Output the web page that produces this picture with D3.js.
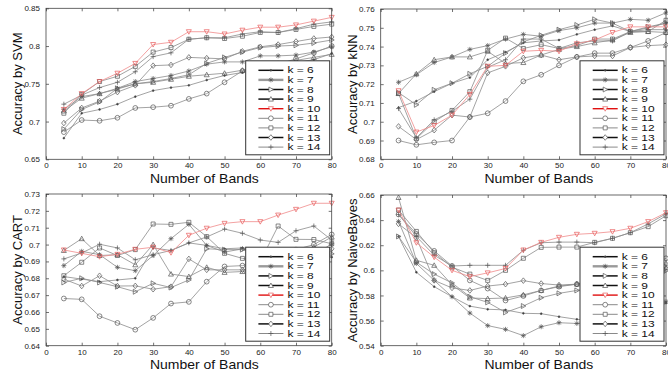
<!DOCTYPE html>
<html>
<head>
<meta charset="utf-8">
<script src="https://cdn.jsdelivr.net/npm/d3@7"></script>
<style>
  html, body { margin: 0; padding: 0; background: #fff; }
  svg { display: block; font-family: "Liberation Sans", Arial, Helvetica, sans-serif; }
</style>
</head>
<body>
<svg id="fig" width="668" height="372"></svg>
<script>
// Number of selected bands on the x axis
const bands = [5, 10, 15, 20, 25, 30, 35, 40, 45, 50, 55, 60, 65, 70, 75, 80];
const kLabels = ["k = 6", "k = 7", "k = 8", "k = 9", "k = 10", "k = 11", "k = 12", "k = 13", "k = 14"];
const markerTypes = [".", "*", ">", "^", "v", "o", "s", "d", "+"];
const xTicks = [0, 10, 20, 30, 40, 50, 60, 70, 80];

// Accuracy per classifier, one row per k (6..14)
const svmAccuracy = [
  [0.678,0.711,0.716,0.723,0.733,0.741,0.745,0.748,0.755,0.761,0.765,0.770,0.774,0.778,0.782,0.790],
  [0.716,0.733,0.737,0.744,0.753,0.757,0.761,0.767,0.776,0.779,0.779,0.787,0.787,0.788,0.792,0.799],
  [0.690,0.716,0.726,0.744,0.750,0.753,0.757,0.762,0.777,0.785,0.792,0.798,0.800,0.801,0.804,0.808],
  [0.714,0.731,0.737,0.743,0.750,0.752,0.756,0.760,0.762,0.764,0.768,0.773,0.777,0.781,0.785,0.789],
  [0.716,0.737,0.753,0.764,0.777,0.802,0.805,0.819,0.819,0.816,0.821,0.825,0.825,0.828,0.833,0.838],
  [0.686,0.702,0.701,0.705,0.718,0.719,0.721,0.730,0.737,0.752,0.767,0.772,0.776,0.783,0.791,0.800],
  [0.711,0.736,0.753,0.760,0.773,0.792,0.798,0.809,0.811,0.810,0.813,0.818,0.818,0.822,0.826,0.829],
  [0.698,0.718,0.727,0.739,0.748,0.774,0.775,0.785,0.784,0.783,0.793,0.799,0.802,0.806,0.810,0.812],
  [0.723,0.735,0.745,0.752,0.766,0.786,0.791,0.809,0.811,0.811,0.816,0.819,0.818,0.823,0.829,0.832]
];
const knnAccuracy = [
  [0.7075,0.711,0.716,0.7205,0.7235,0.733,0.737,0.742,0.743,0.7435,0.7465,0.749,0.751,0.748,0.750,0.7525],
  [0.721,0.725,0.7315,0.7345,0.7385,0.7405,0.744,0.7465,0.7455,0.7485,0.750,0.7525,0.7525,0.7545,0.754,0.758],
  [0.7155,0.709,0.717,0.7205,0.7255,0.7295,0.7365,0.7425,0.746,0.749,0.7515,0.7545,0.7525,0.748,0.7505,0.7525],
  [0.715,0.7255,0.733,0.7345,0.7345,0.7375,0.731,0.7315,0.7355,0.7385,0.740,0.742,0.7435,0.7475,0.748,0.7475],
  [0.7165,0.6945,0.698,0.7035,0.7145,0.7295,0.730,0.7375,0.738,0.7375,0.7415,0.7435,0.7475,0.7505,0.7505,0.7505],
  [0.690,0.6877,0.689,0.690,0.7025,0.7045,0.711,0.7215,0.725,0.730,0.7345,0.7365,0.7365,0.7395,0.743,0.7475],
  [0.715,0.691,0.700,0.706,0.716,0.738,0.7445,0.739,0.741,0.739,0.7405,0.744,0.744,0.748,0.748,0.754],
  [0.6975,0.6905,0.6955,0.7035,0.7025,0.726,0.7295,0.734,0.7355,0.733,0.7345,0.735,0.735,0.7395,0.7405,0.741],
  [0.707,0.6915,0.701,0.7055,0.712,0.729,0.733,0.744,0.744,0.739,0.742,0.743,0.743,0.748,0.749,0.749]
];
const cartAccuracy = [
  [0.681,0.6795,0.678,0.679,0.680,0.698,0.6965,0.701,0.6995,0.6975,0.698,0.697,0.696,0.695,0.694,0.6925],
  [0.6875,0.696,0.694,0.6865,0.6845,0.6935,0.7035,0.712,0.6995,0.6955,0.6975,0.696,0.695,0.694,0.6935,0.7005],
  [0.6775,0.680,0.6775,0.675,0.672,0.677,0.6745,0.679,0.6975,0.697,0.697,0.695,0.694,0.6935,0.693,0.6945],
  [0.6965,0.7035,0.6935,0.694,0.688,0.700,0.6825,0.681,0.6865,0.6835,0.684,0.686,0.690,0.695,0.6985,0.7045],
  [0.6968,0.6948,0.6928,0.6942,0.6972,0.6984,0.6952,0.7055,0.7097,0.7126,0.7136,0.7136,0.7175,0.7209,0.7245,0.7245],
  [0.668,0.6675,0.6575,0.6535,0.6495,0.6565,0.665,0.666,0.678,0.687,0.6875,0.690,0.692,0.697,0.700,0.706],
  [0.6815,0.6895,0.698,0.6935,0.697,0.7122,0.712,0.7132,0.7047,0.6948,0.6918,0.690,0.711,0.7031,0.703,0.7005],
  [0.6795,0.6754,0.6815,0.6754,0.6755,0.6735,0.675,0.6915,0.685,0.685,0.685,0.687,0.689,0.692,0.695,0.6975],
  [0.6915,0.695,0.7002,0.698,0.691,0.694,0.6965,0.701,0.7045,0.7092,0.7067,0.7027,0.7013,0.7082,0.711,0.7027]
];
const nbAccuracy = [
  [0.627,0.5985,0.587,0.579,0.5715,0.569,0.5685,0.5658,0.5655,0.5631,0.561,0.560,0.5595,0.560,0.565,0.574],
  [0.639,0.6055,0.592,0.579,0.566,0.556,0.553,0.548,0.5551,0.5583,0.5577,0.559,0.562,0.566,0.570,0.575],
  [0.627,0.6065,0.597,0.590,0.579,0.5745,0.5665,0.5716,0.5782,0.5817,0.584,0.586,0.589,0.593,0.597,0.5997],
  [0.658,0.608,0.604,0.5885,0.578,0.5775,0.578,0.5805,0.584,0.5875,0.589,0.591,0.594,0.597,0.600,0.6024],
  [0.648,0.622,0.6105,0.600,0.595,0.598,0.6015,0.6162,0.6223,0.6263,0.6287,0.6295,0.6308,0.6335,0.6388,0.6459],
  [0.6445,0.629,0.6155,0.6035,0.592,0.5855,0.576,0.5796,0.584,0.587,0.589,0.593,0.597,0.601,0.605,0.6096],
  [0.648,0.631,0.614,0.6025,0.597,0.592,0.600,0.6096,0.6183,0.6185,0.6185,0.6223,0.6255,0.630,0.6348,0.6435],
  [0.637,0.626,0.592,0.586,0.584,0.5875,0.589,0.5918,0.5895,0.5883,0.589,0.591,0.594,0.598,0.601,0.605],
  [0.6445,0.627,0.612,0.6035,0.604,0.604,0.604,0.616,0.622,0.6225,0.6225,0.622,0.6255,0.630,0.637,0.645]
];

const svmTicks = [0.65, 0.7, 0.75, 0.8, 0.85];
const knnTicks = [0.68, 0.69, 0.7, 0.71, 0.72, 0.73, 0.74, 0.75, 0.76];
const cartTicks = [0.64, 0.65, 0.66, 0.67, 0.68, 0.69, 0.7, 0.71, 0.72, 0.73];
const nbTicks = [0.54, 0.56, 0.58, 0.6, 0.62, 0.64, 0.66];

const panels = [
  { data: svmAccuracy,  ticks: svmTicks,  label: "Accuracy by SVM",        box: [46, 8.3, 331.7, 159.3],   yTitleX: 21.5 },
  { data: knnAccuracy,  ticks: knnTicks,  label: "Accuracy by kNN",        box: [380.7, 9, 666, 159.3],    yTitleX: 356.5 },
  { data: cartAccuracy, ticks: cartTicks, label: "Accuracy by CART",       box: [46, 194, 331.7, 345.7],   yTitleX: 22 },
  { data: nbAccuracy,   ticks: nbTicks,   label: "Accuracy by NaiveBayes", box: [380.7, 195, 666, 345.7],  yTitleX: 356.5 }
];

// legend line appearance per k
const legendLine = [
  { c: "#111", w: 1.5 }, { c: "#9a9a9a", w: 2.4 }, { c: "#111", w: 1.5 },
  { c: "#111", w: 1.5 }, { c: "#e01010", w: 1.4 }, { c: "#8a8a8a", w: 1 },
  { c: "#8a8a8a", w: 1 }, { c: "#111", w: 1.5 }, { c: "#8a8a8a", w: 1 }
];

const fmt = v => String(+v.toFixed(3));

function markerPath(t) {
  const s = 2.5;
  switch (t) {
    case "o": return d3.symbol(d3.symbolCircle, Math.PI * 2.4 * 2.4)();
    case "s": return "M-2,-2H2V2H-2Z";
    case "d": return "M0,-2.8L2.3,0L0,2.8L-2.3,0Z";
    case "^": return `M0,${-s}L${s},${s * 0.8}L${-s},${s * 0.8}Z`;
    case "v": return `M0,${s}L${s},${-s * 0.8}L${-s},${-s * 0.8}Z`;
    case ">": return `M${s},0L${-s * 0.8},${s}L${-s * 0.8},${-s}Z`;
    case "+": return `M${-s},0H${s}M0,${-s}V${s}`;
    case "*": return `M${-s},0H${s}M0,${-s}V${s}M-1.8,-1.8L1.8,1.8M-1.8,1.8L1.8,-1.8`;
    default:  return d3.symbol(d3.symbolCircle, Math.PI * 0.9 * 0.9)();
  }
}

const svg = d3.select("#fig");

panels.forEach(p => {
  const [x0, y0, x1, y1] = p.box;
  const x = d3.scaleLinear().domain([0, 80]).range([x0, x1]);
  const y = d3.scaleLinear().domain([p.ticks[0], p.ticks[p.ticks.length - 1]]).range([y1, y0]);
  const g = svg.append("g");

  // axes: bottom/left labelled, top/right ticks only, all inward
  const ax = (axis, tr) => g.append("g").attr("transform", tr).call(axis)
    .call(s => s.select(".domain").remove())
    .call(s => s.selectAll("line").attr("stroke", "#333").attr("stroke-width", 0.7))
    .call(s => s.selectAll("text").attr("font-size", 8).attr("fill", "#222").attr("font-family", null));
  ax(d3.axisBottom(x).tickValues(xTicks).tickSizeInner(-3).tickPadding(3.5).tickFormat(fmt), `translate(0,${y1})`);
  ax(d3.axisTop(x).tickValues(xTicks).tickSizeInner(-3).tickFormat(""), `translate(0,${y0})`);
  ax(d3.axisLeft(y).tickValues(p.ticks).tickSizeInner(-3).tickPadding(6).tickFormat(fmt), `translate(${x0},0)`);
  ax(d3.axisRight(y).tickValues(p.ticks).tickSizeInner(-3).tickFormat(""), `translate(${x1},0)`);

  // series lines and markers, the k = 10 series drawn last
  const line = d3.line().x((d, i) => x(bands[i])).y(d => y(d));
  const order = [0, 1, 2, 3, 5, 6, 7, 8, 4];
  order.forEach(k => {
    const red = k === 4;
    const vals = p.data[k];
    g.append("path").attr("d", line(vals)).attr("fill", "none")
      .attr("stroke", red ? "#f08a8a" : "#8c8c8c").attr("stroke-width", 0.8);
    g.selectAll(null).data(vals).join("path")
      .attr("transform", (d, i) => `translate(${x(bands[i])},${y(d)})`)
      .attr("d", markerPath(markerTypes[k]))
      .attr("fill", markerTypes[k] === "." ? (red ? "#e05050" : "#333") : "none")
      .attr("stroke", red ? "#e85a5a" : "#555").attr("stroke-width", 0.7);
  });

  // frame
  g.append("rect").attr("x", x0).attr("y", y0).attr("width", x1 - x0).attr("height", y1 - y0)
    .attr("fill", "none").attr("stroke", "#444").attr("stroke-width", 0.8);

  // titles
  g.append("text").attr("transform", `translate(${(x0 + x1) / 2 + 15.5},${y1 + 23.3}) scale(1,0.9)`)
    .attr("text-anchor", "middle").attr("font-size", 14).attr("fill", "#111").text("Number of Bands");
  g.append("text").attr("transform", `translate(${p.yTitleX},${(y0 + y1) / 2}) rotate(-90)`)
    .attr("text-anchor", "middle").attr("font-size", 13).attr("fill", "#111").text(p.label);

  // legend
  const lw = 84, lh = 94;
  const lx = x1 - 2 - lw, ly = y1 - 4.5 - lh;
  const lg = g.append("g").attr("transform", `translate(${lx},${ly})`);
  lg.append("rect").attr("width", lw).attr("height", lh).attr("fill", "#fff")
    .attr("stroke", "#333").attr("stroke-width", 1);
  kLabels.forEach((lab, k) => {
    const cy = 9.5 + k * 9.6;
    lg.append("line").attr("x1", 12.7).attr("x2", 37.7).attr("y1", cy).attr("y2", cy)
      .attr("stroke", legendLine[k].c).attr("stroke-width", legendLine[k].w);
    lg.append("path").attr("transform", `translate(25.2,${cy})`).attr("d", markerPath(markerTypes[k]))
      .attr("fill", markerTypes[k] === "." ? "#333" : "#fff")
      .attr("stroke", k === 4 ? "#e85a5a" : "#555").attr("stroke-width", 0.7);
    // legend rows are tight, so the label glyphs are set slightly condensed vertically
    lg.append("text").attr("transform", `translate(41.7,${cy}) scale(1,0.7)`).attr("dy", "0.36em")
      .attr("font-size", 12).attr("fill", "#111").text(lab);
  });
});
</script>
</body>
</html>
